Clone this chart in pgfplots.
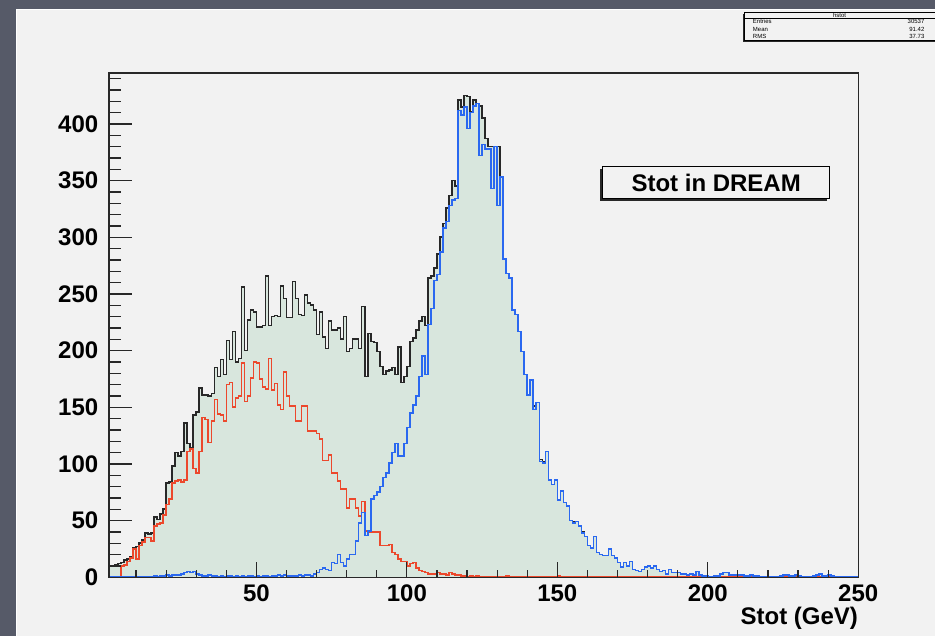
\documentclass[border=0pt]{standalone}
\usepackage{pgfplots}
\usepackage{pgfplotstable}
\pgfplotsset{compat=1.18}
\usepackage{fontspec}
\setmainfont{Liberation Sans}
\definecolor{bgcol}{RGB}{86,90,104}
\definecolor{panelcol}{RGB}{242,242,242}
\definecolor{fillcol}{RGB}{216,230,221}
\definecolor{redcol}{RGB}{236,72,44}
\definecolor{bluecol}{RGB}{42,104,240}
\definecolor{framecol}{RGB}{40,40,40}
\pgfplotstableread{
x tot red blue
1 10 0 0
2 10 0 0
3 11 0 0
4 12 0 0
5 13 10 0
6 15 11 0
7 16 14 0
8 18 17 0
9 26 25 0
10 27 16 0
11 30 28 0
12 33 31 0
13 39 35 0
14 38 35 0
15 39 32 0
16 53 45 1
17 51 47 0
18 56 48 1
19 60 55 1
20 83 64 2
21 84 69 1
22 98 83 2
23 110 85 2
24 107 86 2
25 111 84 3
26 136 86 4
27 118 111 5
28 114 113 4
29 143 96 5
30 146 92 3
31 167 111 2
32 161 141 1
33 161 139 1
34 160 119 2
35 162 138 1
36 185 157 1
37 177 144 0
38 192 143 1
39 179 138 0
40 209 170 1
41 192 172 1
42 217 150 0
43 190 158 1
44 193 160 0
45 256 189 1
46 200 155 0
47 227 160 1
48 236 176 1
49 234 190 0
50 221 189 1
51 221 175 0
52 222 168 1
53 266 166 1
54 222 193 0
55 230 165 1
56 231 171 1
57 230 152 2
58 257 148 1
59 246 181 2
60 229 160 1
61 229 151 1
62 261 151 1
63 246 138 1
64 232 138 2
65 231 151 1
66 249 151 2
67 242 129 2
68 240 129 1
69 236 129 3
70 214 127 4
71 234 122 7
72 212 103 8
73 202 103 7
74 226 108 6
75 218 92 13
76 218 92 12
77 220 85 20
78 210 78 13
79 230 78 10
80 199 61 16
81 202 69 20
82 210 69 20
83 210 61 32
84 202 54 48
85 239 67 57
86 177 41 37
87 215 40 41
88 208 40 69
89 207 40 72
90 199 40 75
91 186 28 80
92 179 28 88
93 182 28 92
94 183 29 101
95 185 22 110
96 179 20 118
97 203 16 107
98 172 14 107
99 177 14 118
100 186 10 132
101 208 12 145
102 211 13 152
103 218 8 160
104 226 6 177
105 230 5 195
106 222 4 179
107 264 3 223
108 266 3 237
109 273 3 262
110 285 4 267
111 300 3 287
112 312 3 308
113 326 2 314
114 337 4 328
115 350 3 333
116 345 2 334
117 421 2 412
118 415 1 408
119 425 1 415
120 424 0 396
121 411 1 410
122 421 0 416
123 418 1 418
124 416 0 372
125 405 0 382
126 387 0 378
127 380 0 378
128 380 0 343
129 380 0 380
130 380 0 328
131 353 0 353
132 281 0 281
133 268 1 268
134 264 0 264
135 236 0 236
136 232 0 232
137 217 0 217
138 199 0 199
139 179 0 179
140 161 0 161
141 174 0 174
142 151 0 148
143 154 0 154
144 104 0 102
145 102 0 101
146 111 0 111
147 86 0 86
148 82 0 82
149 86 0 86
150 68 1 68
151 76 0 76
152 66 0 66
153 63 0 63
154 50 0 50
155 49 0 48
156 49 0 49
157 45 0 45
158 40 0 39
159 36 0 36
160 28 0 28
161 26 0 26
162 36 0 36
163 22 0 22
164 20 0 20
165 19 0 19
166 19 0 19
167 25 0 25
168 19 0 19
169 17 0 17
170 13 0 13
171 9 0 9
172 13 0 13
173 10 0 10
174 14 0 14
175 7 0 7
176 6 0 6
177 5 0 5
178 7 0 7
179 9 0 9
180 10 0 10
181 8 0 8
182 10 0 10
183 7 0 7
184 5 0 5
185 6 0 6
186 3 0 3
187 7 0 7
188 4 0 4
189 4 0 4
190 4 0 4
191 3 0 3
192 3 0 3
193 2 0 2
194 3 0 3
195 2 0 2
196 5 0 5
197 2 0 2
198 1 0 1
199 1 0 1
200 0 0 0
201 0 0 0
202 1 0 1
203 1 0 1
204 3 0 3
205 4 0 4
206 4 0 4
207 2 0 2
208 2 0 2
209 2 0 2
210 2 0 2
211 2 0 2
212 1 0 1
213 1 0 1
214 2 0 2
215 1 0 1
216 1 0 1
217 0 0 0
218 0 0 0
219 0 0 0
220 0 0 0
221 0 0 0
222 0 0 0
223 0 0 0
224 1 0 1
225 2 0 2
226 2 0 2
227 1 0 1
228 1 0 1
229 2 0 2
230 1 0 1
231 0 0 0
232 0 0 0
233 0 0 0
234 0 0 0
235 1 0 1
236 2 0 2
237 3 0 3
238 1 0 1
239 1 0 1
240 2 0 2
241 1 0 1
242 0 0 0
243 0 0 0
244 0 0 0
245 0 0 0
246 0 0 0
247 0 0 0
248 0 0 0
249 0 0 0
250 0 0 0
}\histdata
\pgfplotsset{
  rootaxis/.style={
    at={(81.75pt,43.875pt)}, anchor=south west,
    scale only axis, width=562.2pt, height=378.4pt,
    xmin=1, xmax=250, ymin=0, ymax=445,
    axis line style={line width=1.1pt, framecol},
    tick align=inside, tick pos=left,
    tick style={color=framecol, line width=0.9pt},
    ticklabel style={font=\fontsize{18}{18}\selectfont\bfseries},
    /pgf/number format/assume math mode=true,
    /pgf/number format/1000 sep={},
  }
}
\begin{document}
\begin{tikzpicture}
\begin{scope}[x=0.75pt,y=0.75pt]
\useasboundingbox (0,0) rectangle (935,636);
\fill[bgcol] (0,0) rectangle (935,636);
\fill[white] (16,0) rectangle (935,627);
\fill[panelcol] (17.5,0) rectangle (935,625.5);
\end{scope}
\begin{axis}[
  rootaxis,
  axis on top,
  xtick={50,100,150,200,250},
  minor xtick={10,20,30,40,60,70,80,90,110,120,130,140,160,170,180,190,210,220,230,240},
  major tick length=11.25pt, minor tick length=5.25pt,
  xticklabel style={yshift=-2pt},
  ytick=\empty,
  axis background/.style={fill=panelcol},
]
\addplot[const plot, fill=fillcol, draw=none] table[x=x,y=tot] {\histdata} \closedcycle;
\addplot[const plot, draw=framecol, line width=1.15pt] table[x=x,y=tot] {\histdata};
\addplot[const plot, draw=redcol, line width=1.15pt] table[x=x,y=red] {\histdata};
\addplot[const plot, draw=bluecol, line width=1.15pt] table[x=x,y=blue] {\histdata};
\end{axis}
\begin{axis}[
  rootaxis,
  xtick=\empty,
  ytick={0,50,100,150,200,250,300,350,400},
  minor ytick={10,20,30,40,60,70,80,90,110,120,130,140,160,170,180,190,210,220,230,240,260,270,280,290,310,320,330,340,360,370,380,390,410,420,430,440},
  major tick length=17.25pt, minor tick length=9pt,
  yticklabel style={xshift=-4.5pt},
]
\addplot[draw=none, forget plot] table[x=x,y=tot] {\histdata};
\end{axis}
\begin{scope}[x=0.75pt,y=0.75pt]
% x label
\node[anchor=base east, inner sep=0pt, font=\fontsize{18}{18}\selectfont\bfseries] at (858.6,11) {Stot (GeV)};
% text box
\fill[framecol] (600.5,434.5) rectangle (827.5,466.5);
\filldraw[fill=panelcol, draw=black, line width=0.8pt] (603,437) rectangle (830,469);
\node[font=\fontsize{18}{18}\selectfont\bfseries] at (716.5,453) {Stot in DREAM};
% stats box
\fill[framecol] (743,594) rectangle (935,621.5);
\fill[panelcol] (745,596) rectangle (935,623.7);
\draw[black, line width=0.6pt] (935,623.7) -- (745,623.7) -- (745,596) -- (935,596);
\draw[black, line width=0.4pt] (745,618) -- (935,618);
\node[font=\fontsize{4.5}{4.5}\selectfont] at (840,620.8) {hstot};
\node[anchor=west, inner sep=0pt, font=\fontsize{4.5}{4.5}\selectfont] at (753,614.5) {Entries};
\node[anchor=west, inner sep=0pt, font=\fontsize{4.5}{4.5}\selectfont] at (753,606.8) {Mean};
\node[anchor=west, inner sep=0pt, font=\fontsize{4.5}{4.5}\selectfont] at (753,599.6) {RMS};
\node[anchor=east, inner sep=0pt, font=\fontsize{4.5}{4.5}\selectfont] at (925,614.5) {30537};
\node[anchor=east, inner sep=0pt, font=\fontsize{4.5}{4.5}\selectfont] at (925,606.8) {91.42};
\node[anchor=east, inner sep=0pt, font=\fontsize{4.5}{4.5}\selectfont] at (925,599.6) {37.73};
\end{scope}
\end{tikzpicture}
\end{document}
